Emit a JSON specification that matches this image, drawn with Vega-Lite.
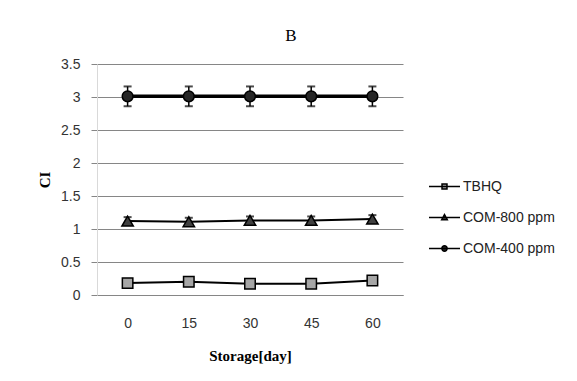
{
  "$schema": "https://vega.github.io/schema/vega-lite/v6.json",
  "autosize": {"type": "none"},
  "width": 306,
  "height": 231,
  "padding": {"left": 97, "top": 64, "right": 174, "bottom": 86},
  "background": "white",
  "title": {
    "text": "B",
    "anchor": "middle",
    "dx": 41,
    "offset": -1,
    "baseline": "alphabetic",
    "font": "Liberation Serif",
    "fontSize": 17,
    "fontWeight": "normal",
    "color": "black"
  },
  "data": {
    "values": [
      {"series": "TBHQ", "day": 0, "ci": 0.18, "lo": 0.16, "hi": 0.20},
      {"series": "TBHQ", "day": 15, "ci": 0.20, "lo": 0.18, "hi": 0.22},
      {"series": "TBHQ", "day": 30, "ci": 0.17, "lo": 0.15, "hi": 0.19},
      {"series": "TBHQ", "day": 45, "ci": 0.17, "lo": 0.15, "hi": 0.19},
      {"series": "TBHQ", "day": 60, "ci": 0.22, "lo": 0.20, "hi": 0.24},
      {"series": "COM-800 ppm", "day": 0, "ci": 1.12, "lo": 1.06, "hi": 1.18},
      {"series": "COM-800 ppm", "day": 15, "ci": 1.11, "lo": 1.05, "hi": 1.17},
      {"series": "COM-800 ppm", "day": 30, "ci": 1.13, "lo": 1.07, "hi": 1.19},
      {"series": "COM-800 ppm", "day": 45, "ci": 1.13, "lo": 1.07, "hi": 1.19},
      {"series": "COM-800 ppm", "day": 60, "ci": 1.15, "lo": 1.09, "hi": 1.21},
      {"series": "COM-400 ppm", "day": 0, "ci": 3.01, "lo": 2.86, "hi": 3.16},
      {"series": "COM-400 ppm", "day": 15, "ci": 3.01, "lo": 2.86, "hi": 3.16},
      {"series": "COM-400 ppm", "day": 30, "ci": 3.01, "lo": 2.86, "hi": 3.16},
      {"series": "COM-400 ppm", "day": 45, "ci": 3.01, "lo": 2.86, "hi": 3.16},
      {"series": "COM-400 ppm", "day": 60, "ci": 3.01, "lo": 2.86, "hi": 3.16}
    ]
  },
  "encoding": {
    "x": {
      "field": "day",
      "type": "ordinal",
      "scale": {"type": "point", "padding": 0.5},
      "axis": {
        "title": "Storage[day]",
        "labelAngle": 0,
        "ticks": false,
        "tickSize": 0,
        "labelPadding": 21,
        "labelFont": "Liberation Sans",
        "labelFontSize": 14,
        "labelColor": "#333333",
        "domainColor": "#868686",
        "domainWidth": 1,
        "grid": false,
        "titleFont": "Liberation Serif",
        "titleFontSize": 15,
        "titleFontWeight": "bold",
        "titleColor": "black",
        "titlePadding": 18
      }
    },
    "y": {
      "field": "ci",
      "type": "quantitative",
      "scale": {"domain": [0, 3.5], "nice": false, "zero": true},
      "axis": {
        "title": "CI",
        "values": [0, 0.5, 1, 1.5, 2, 2.5, 3, 3.5],
        "format": "~g",
        "grid": true,
        "gridColor": "#868686",
        "gridWidth": 1,
        "tickColor": "#868686",
        "tickSize": 6,
        "labelPadding": 11,
        "labelFont": "Liberation Sans",
        "labelFontSize": 14,
        "labelColor": "#333333",
        "domainColor": "#d9d9d9",
        "domainWidth": 1,
        "titleFont": "Liberation Serif",
        "titleFontSize": 15,
        "titleFontWeight": "bold",
        "titleColor": "black",
        "titlePadding": 8
      }
    }
  },
  "layer": [
    {
      "transform": [{"filter": "datum.series !== 'COM-400 ppm'"}],
      "mark": {"type": "line", "color": "black", "strokeWidth": 2},
      "encoding": {
        "detail": {"field": "series"}
      }
    },
    {
      "transform": [{"filter": "datum.series === 'COM-400 ppm'"}],
      "mark": {"type": "line", "color": "black", "strokeWidth": 3.5},
      "encoding": {
        "detail": {"field": "series"}
      }
    },
    {
      "mark": {"type": "rule", "color": "black", "strokeWidth": 1.5},
      "encoding": {
        "y": {"field": "lo", "type": "quantitative"},
        "y2": {"field": "hi"}
      }
    },
    {
      "mark": {"type": "tick", "color": "black", "thickness": 2, "size": 8},
      "encoding": {
        "y": {"field": "lo", "type": "quantitative"}
      }
    },
    {
      "mark": {"type": "tick", "color": "black", "thickness": 2, "size": 8},
      "encoding": {
        "y": {"field": "hi", "type": "quantitative"}
      }
    },
    {
      "mark": {"type": "point", "filled": true, "shape": "circle", "size": 0, "opacity": 0},
      "encoding": {
        "color": {
          "field": "series",
          "type": "nominal",
          "scale": {"domain": ["TBHQ", "COM-800 ppm", "COM-400 ppm"], "range": ["#a6a6a6", "#404040", "#262626"]},
          "legend": {
            "title": null,
            "orient": "none",
            "legendX": 331,
            "legendY": 106,
            "padding": 0,
            "symbolSize": 961,
            "labelOffset": 2,
            "rowPadding": 7,
            "labelFont": "Liberation Sans",
            "labelFontSize": 14,
            "labelColor": "#222222",
            "encode": {
              "symbols": {
                "update": {
                  "shape": {"signal": "datum.value === 'TBHQ' ? 'M-1,0H1M-0.16,-0.16H0.16V0.16H-0.16Z' : datum.value === 'COM-800 ppm' ? 'M-1,0H1M0,-0.19L0.18,0.14H-0.18Z' : 'M-1,0H1M-0.17,0A0.17,0.17 0 1,0 0.17,0A0.17,0.17 0 1,0 -0.17,0Z'"},
                  "size": {"value": 961},
                  "stroke": {"value": "black"},
                  "strokeWidth": {"value": 1.5},
                  "opacity": {"value": 1}
                }
              }
            }
          }
        }
      }
    },
    {
      "transform": [{"filter": "datum.series === 'TBHQ'"}],
      "mark": {"type": "point", "filled": true, "shape": "square", "size": 110, "fill": "#a6a6a6", "stroke": "black", "strokeWidth": 1.5, "opacity": 1}
    },
    {
      "transform": [{"filter": "datum.series === 'COM-800 ppm'"}],
      "mark": {"type": "point", "filled": true, "shape": "triangle-up", "size": 130, "fill": "#404040", "stroke": "black", "strokeWidth": 1.5, "opacity": 1}
    },
    {
      "transform": [{"filter": "datum.series === 'COM-400 ppm'"}],
      "mark": {"type": "point", "filled": true, "shape": "circle", "size": 115, "fill": "#262626", "stroke": "black", "strokeWidth": 1.5, "opacity": 1}
    }
  ],
  "config": {
    "view": {"stroke": null}
  }
}
